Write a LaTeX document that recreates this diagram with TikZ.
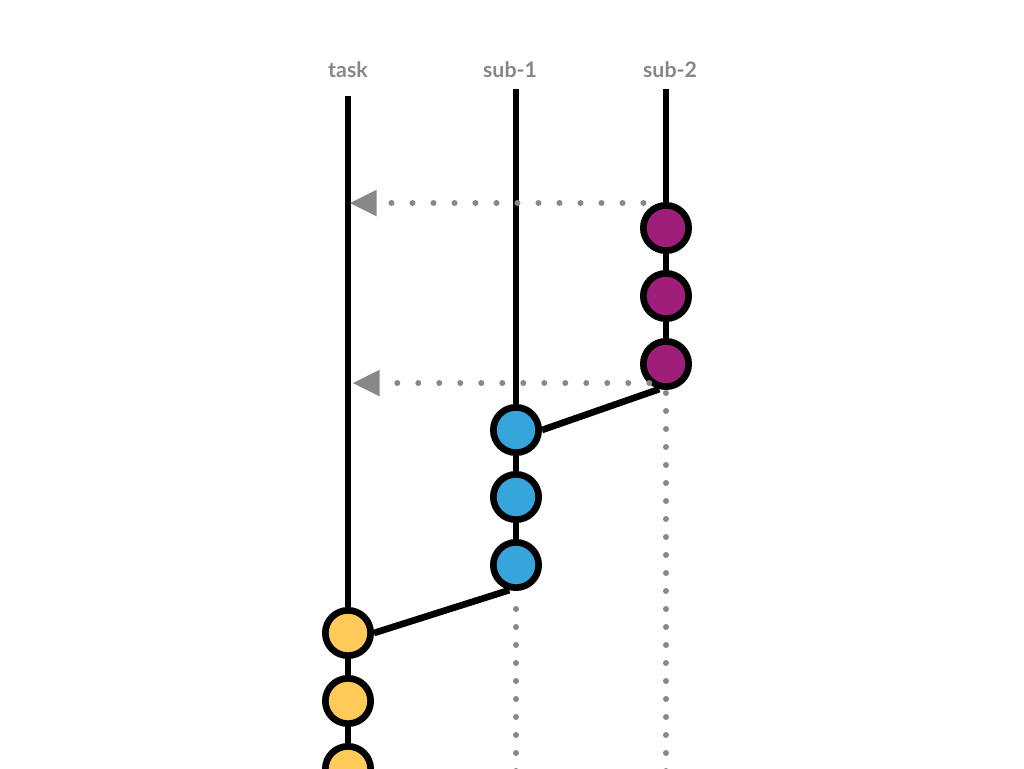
\documentclass[tikz,border=0pt]{standalone}
\usepackage{fontspec}
\setmainfont{Lato}
\usepackage{tikz}
\usetikzlibrary{calc}
\usetikzlibrary{arrows.meta}
\usetikzlibrary{backgrounds}

\definecolor{subtwo}{RGB}{158,30,122}
\definecolor{subone}{RGB}{54,165,220}
\definecolor{taskcol}{RGB}{255,202,88}
\definecolor{dotgray}{RGB}{136,136,136}

\tikzset{
    commit/.style={shape=circle, draw=black, line width=5pt, minimum size=34pt, inner sep=0pt},
    branch/.style={line width=5pt},
    dots/.style={dotgray, line width=4.5pt, line cap=round, dash pattern=on 0pt off 15.75pt},
    vdots/.style={dotgray, line width=4.5pt, line cap=round, dash pattern=on 0pt off 13.5pt},
    branchname/.style={text=dotgray, font=\bfseries\fontsize{16}{19}\selectfont, anchor=base},
    merge/.style={-{Triangle[length=20pt, width=20pt, line width=0pt]}}
}

\begin{document}
\begin{tikzpicture}[x=0.75pt, y=-0.75pt]
        \useasboundingbox (0,0) rectangle (1024,768);

        % branch names
        \node (tasklbl) at (348,77) [branchname] {task};
        \node (sub1lbl) at (510,77) [branchname] {sub-1};
        \node (sub2lbl) at (670,77) [branchname] {sub-2};

        \coordinate (tasktop) at (348,96);
        \coordinate (sub1top) at (516,89);
        \coordinate (sub2top) at (666,89);

        % sub-2 commits
        \node (pur1) at (666,228) [commit, fill=subtwo] {};
        \node (pur2) at (666,296) [commit, fill=subtwo] {};
        \node (pur3) at (666,364) [commit, fill=subtwo] {};

        % sub-1 commits
        \node (blu1) at (516,430) [commit, fill=subone] {};
        \node (blu2) at (516,497) [commit, fill=subone] {};
        \node (blu3) at (516,565) [commit, fill=subone] {};

        % task commits
        \node (yel1) at (348,633) [commit, fill=taskcol] {};
        \node (yel2) at (348,701) [commit, fill=taskcol] {};
        \node (yel3) at (348,769) [commit, fill=taskcol] {};

        \coordinate (in1) at (350,203);
        \coordinate (in2) at (353,383);
        \coordinate (sub1end) at (516,775);
        \coordinate (sub2end) at (666,775);

        \begin{scope}[on background layer]
            \draw[branch] (tasktop) -- (yel1) -- (yel2) -- (yel3);
            \draw[branch] (sub1top) -- (blu1) -- (blu2) -- (blu3);
            \draw[branch] (sub2top) -- (pur1) -- (pur2) -- (pur3);
            \draw[branch] (yel1.east) -- (blu3.-105);
            \draw[branch] (blu1.east) -- (pur3.-105);
        \end{scope}

        % dotted
        \draw[dots, merge] (pur1.150 |- in1) -- (in1);
        \draw[dots, merge] (pur3.-130 |- in2) -- (in2);
        \draw[vdots] ($(pur3.south)+(0,3)$) -- (sub2end);
        \draw[vdots] ($(blu3.south)+(0,18)$) -- (sub1end);
    \end{tikzpicture}
\end{document}
